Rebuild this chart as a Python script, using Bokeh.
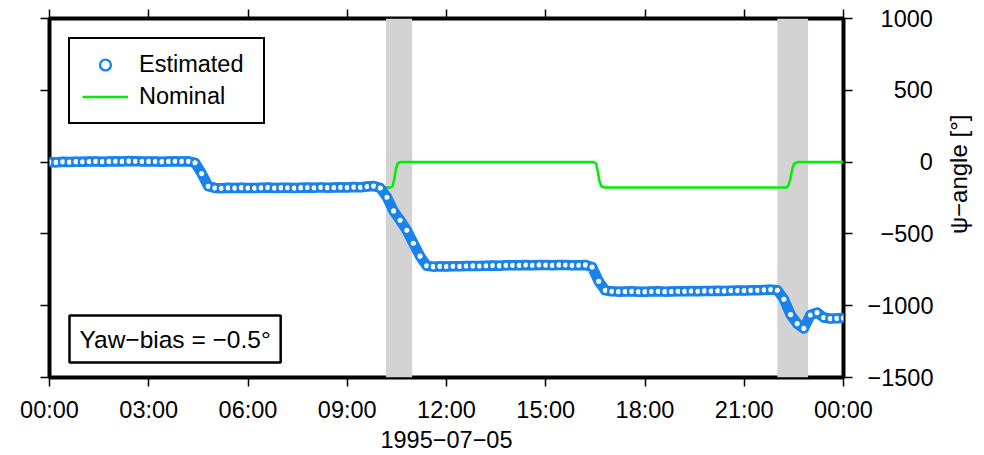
import math
from bokeh.plotting import figure
from bokeh.layouts import row
from bokeh.models import (Range1d, LinearAxis, FixedTicker, BoxAnnotation, Label,
                          Legend, LegendItem, ColumnDataSource)
from bokeh.embed import file_html
from bokeh.resources import INLINE

# ---------------- data ----------------
tick_hours = [0, 3, 6, 9, 12, 15, 18, 21, 24]
tick_labels = ["00:00", "03:00", "06:00", "09:00", "12:00", "15:00", "18:00", "21:00", "00:00"]
y_ticks = [-1500, -1000, -500, 0, 500, 1000]
y_tick_labels = ["\u22121500", "\u22121000", "\u2212500", "0", "500", "1000"]
date_label = "1995\u221207\u221205"
y_label = "\u03c8\u2212angle [\u00b0]"
bias_text = "Yaw\u2212bias = \u22120.5\u00b0"

eclipse_start = [10.17, 22.00]
eclipse_end = [10.96, 22.93]

est_hours = [round(0.2 * i, 1) for i in range(121)]
est_values = [
    0, -2, 2, 0, 3, 2, 4, 5, 3, 5,                      # 0.0 - 1.8
    6, 5, 7, 6, 4, 5, 4, 3, 5, 6,                       # 2.0 - 3.8
    5, 6, -5, -80, -168, -180, -182, -179, -181, -178,  # 4.0 - 5.8
    -180, -181, -179, -177, -180, -178, -179, -181, -178, -177,  # 6.0 - 7.8
    -179, -176, -178, -177, -175, -177, -174, -176, -170, -166,  # 8.0 - 9.8
    -180, -245, -340, -405, -475, -565, -655, -722, -728, -726,  # 10.0 - 11.8
    -727, -725, -726, -724, -723, -724, -722, -720, -721, -719,  # 12.0 - 13.8
    -718, -719, -717, -718, -716, -717, -718, -716, -717, -719,  # 14.0 - 15.8
    -718, -716, -730, -830, -893, -900, -902, -901, -900, -903,  # 16.0 - 17.8
    -902, -901, -900, -902, -901, -899, -900, -898, -899, -897,  # 18.0 - 19.8
    -898, -896, -897, -895, -894, -895, -893, -892, -890, -888,  # 20.0 - 21.8
    -892, -955, -1062, -1125, -1158, -1065, -1048, -1082, -1090, -1088,  # 22.0 - 23.8
    -1086,                                              # 24.0
]

nom_hours = [0, 4.45, 4.52, 4.58, 4.64, 4.70, 4.78,
             10.30, 10.37, 10.42, 10.47, 10.52, 10.60,
             16.45, 16.52, 16.57, 16.62, 16.68, 16.78,
             22.25, 22.33, 22.39, 22.45, 22.51, 22.62, 24]
nom_values = [0, 0, -10, -60, -130, -168, -177,
              -177, -168, -120, -50, -10, 0,
              0, -10, -60, -130, -168, -177,
              -177, -168, -120, -50, -10, 0, 0]

# ---------------- style ----------------
FONT = "Liberation Sans"
FS = "23.5px"
BLUE = "#1a82ec"
GREEN = "#00ee00"
FIG_SPACE = "\u2007"

p = figure(width=940, height=455, output_backend="svg", toolbar_location=None,
           x_range=Range1d(0, 24), y_range=Range1d(-1500, 1000),
           x_axis_location=None, y_axis_location=None,
           min_border_left=49, min_border_right=97, min_border_top=18, min_border_bottom=78)
p.grid.visible = False
p.outline_line_color = "black"
p.outline_line_width = 4
p.background_fill_color = "white"
p.border_fill_color = "white"

def make_axis(ticks, labels=None):
    ax = LinearAxis(ticker=FixedTicker(ticks=ticks))
    ax.axis_line_color = None
    ax.major_tick_in = 0
    ax.major_tick_out = 9
    ax.major_tick_line_width = 1.5
    ax.major_tick_line_color = "black"
    ax.minor_tick_line_color = None
    if labels is None:
        ax.major_label_overrides = {t: "" for t in ticks}
        ax.major_label_text_font_size = "1px"
    else:
        ax.major_label_overrides = {t: l for t, l in zip(ticks, labels)}
        ax.major_label_text_font = FONT
        ax.major_label_text_font_size = FS
        ax.major_label_text_color = "black"
    ax.axis_label_text_font = FONT
    ax.axis_label_text_font_size = FS
    ax.axis_label_text_font_style = "normal"
    ax.axis_label_text_color = "black"
    return ax

bottom = make_axis(tick_hours, tick_labels)
bottom.major_label_standoff = 10
bottom.axis_label = date_label
bottom.axis_label_standoff = 5
p.add_layout(bottom, "below")
p.add_layout(make_axis(tick_hours), "above")
p.add_layout(make_axis(y_ticks), "left")

# right axis: labels padded with figure spaces so that they end at one edge
width_chars = max(len(s) for s in y_tick_labels)
padded = [FIG_SPACE * (width_chars - len(s)) + s for s in y_tick_labels]
right = make_axis(y_ticks, padded)
right.major_label_standoff = 15
p.add_layout(right, "right")

# eclipse shading
for s, e in zip(eclipse_start, eclipse_end):
    p.add_layout(BoxAnnotation(left=s, right=e, fill_color="#d3d3d3", fill_alpha=1.0,
                               line_color=None, level="underlay"))

nom_src = ColumnDataSource(dict(x=nom_hours, y=nom_values))
est_src = ColumnDataSource(dict(x=est_hours, y=est_values))

r_nom = p.line("x", "y", source=nom_src, line_color=GREEN, line_width=2.5)
p.line("x", "y", source=est_src, line_color=BLUE, line_width=10.5, line_join="round")
r_est = p.scatter("x", "y", source=est_src, marker="circle", size=7.5, fill_color="white",
                  line_color=BLUE, line_width=2.4)

legend = Legend(items=[LegendItem(label="Estimated", renderers=[r_est]),
                       LegendItem(label="Nominal", renderers=[r_nom])],
                location="top_left", margin=19, padding=12, spacing=5,
                glyph_width=46, glyph_height=27, label_height=27, label_width=112,
                label_standoff=11, label_text_font=FONT, label_text_font_size=FS,
                label_text_color="black",
                border_line_color="black", border_line_width=2.5, border_line_alpha=1.0,
                background_fill_color="white", background_fill_alpha=1.0)
p.add_layout(legend)

p.add_layout(Label(x=0, y=-1500, x_offset=20, y_offset=15, text=bias_text,
                   text_align="left", text_baseline="bottom", text_font=FONT,
                   text_font_size="24.5px", text_color="black", padding=10,
                   border_line_color="black", border_line_width=2.5,
                   background_fill_color="white", background_fill_alpha=1.0))

# narrow strip at the right carrying the y-axis title (reads bottom to top)
p2 = figure(width=44, height=455, output_backend="svg", toolbar_location=None,
            x_range=Range1d(0, 1), y_range=Range1d(0, 1),
            x_axis_location=None, y_axis_location=None,
            min_border_left=0, min_border_right=0, min_border_top=0, min_border_bottom=0)
p2.grid.visible = False
p2.outline_line_color = None
p2.background_fill_color = "white"
p2.border_fill_color = "white"
p2.add_layout(Label(x=0.4, y=1 - 197.5 / 455, text=y_label, angle=math.pi / 2,
                    text_align="center", text_baseline="middle", text_font=FONT,
                    text_font_size="24px", text_color="black"))

layout = row(p, p2, spacing=0)
open("out.html", "w").write(file_html(layout, INLINE))
